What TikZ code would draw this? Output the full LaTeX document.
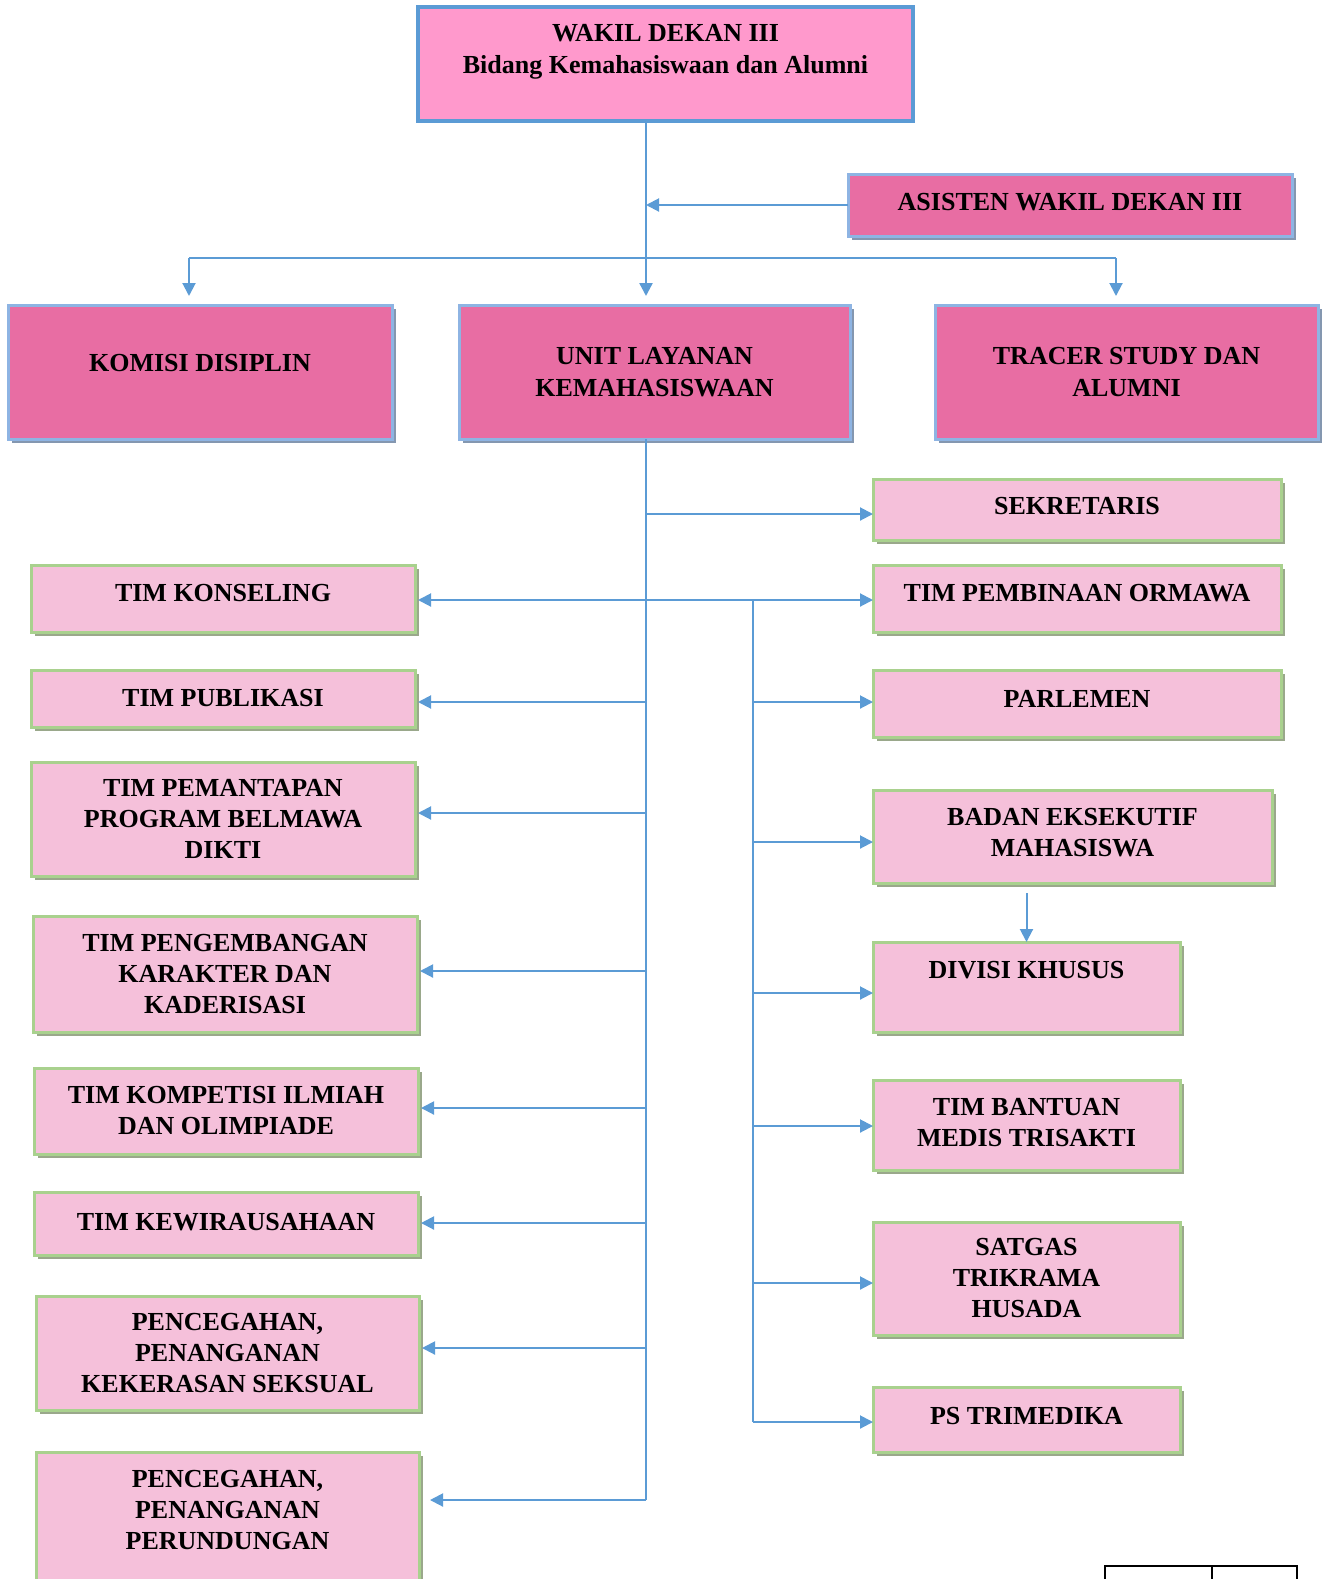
\documentclass[tikz,border=0pt]{standalone}
\usepackage{fontspec}
\setmainfont{Liberation Serif}
\usetikzlibrary{arrows.meta,shadows}
\definecolor{toppink}{HTML}{FF99CC}
\definecolor{topblue}{HTML}{5B9BD5}
\definecolor{midpink}{HTML}{E86DA3}
\definecolor{edgeblue}{HTML}{8EB4E3}
\definecolor{shadeblue}{HTML}{8497B0}
\definecolor{lightpink}{HTML}{F5C0DA}
\definecolor{edgegreen}{HTML}{A9D18E}
\definecolor{shadegreen}{HTML}{9AA88B}
\definecolor{linkblue}{HTML}{5B9BD5}

\begin{document}
\begin{tikzpicture}
[x=.5pt,y=-.5pt,
every node/.style={inner sep=0pt,outer sep=0pt,align=center,font=\fontsize{13}{15.5}\selectfont\bfseries},
topbox/.style={draw=topblue,line width=2pt,fill=toppink},
headbox/.style={draw=edgeblue,line width=1.5pt,fill=midpink,drop shadow={shadow xshift=2pt,shadow yshift=-2pt,fill=shadeblue,opacity=1}},
teambox/.style={draw=edgegreen,line width=1.5pt,fill=lightpink,drop shadow={shadow xshift=2pt,shadow yshift=-2pt,fill=shadegreen,opacity=1}},
link/.style={draw=linkblue,line width=1pt},
arr/.style={link,-{Triangle[length=6.5pt,width=6.5pt]}}]
\useasboundingbox (0,0) rectangle (1330,1579);
% head
\node[topbox,minimum width=247.5pt,minimum height=57pt,text depth=15pt] (wd3) at (665.5,64) {WAKIL DEKAN III\\[.5pt]Bidang Kemahasiswaan dan Alumni};
\node[headbox,minimum width=222pt,minimum height=31pt,text depth=3pt] (awd) at (1070,205) {ASISTEN WAKIL DEKAN III};
\node[headbox,minimum width=192pt,minimum height=67pt,text depth=9pt] (kom) at (200,372) {KOMISI DISIPLIN};
\node[headbox,minimum width=195.5pt,minimum height=67pt] (unit) at (654.5,372) {UNIT LAYANAN\\[.5pt]KEMAHASISWAAN};
\node[headbox,minimum width=191.5pt,minimum height=67pt] (tracer) at (1126.5,372) {TRACER STUDY DAN\\[.5pt]ALUMNI};
% right column
\node[teambox,minimum width=204pt,minimum height=30.5pt,text depth=4pt] (sek) at (1077,509.5) {SEKRETARIS};
\node[teambox,minimum width=204pt,minimum height=33.5pt,text depth=6pt] (orm) at (1077,598.5) {TIM PEMBINAAN ORMAWA};
\node[teambox,minimum width=204pt,minimum height=33.5pt,text depth=5pt] (parl) at (1077,703.5) {PARLEMEN};
\node[teambox,minimum width=199.5pt,minimum height=46.5pt,text depth=4pt] (bem) at (1072.5,836.5) {BADAN EKSEKUTIF\\MAHASISWA};
\node[teambox,minimum width=153.5pt,minimum height=45pt,text depth=17pt] (div) at (1026.5,987) {DIVISI KHUSUS};
\node[teambox,minimum width=153.5pt,minimum height=45pt,text depth=3pt] (tbm) at (1026.5,1125) {TIM BANTUAN\\MEDIS TRISAKTI};
\node[teambox,minimum width=153.5pt,minimum height=56.5pt] (satgas) at (1026.5,1278.5) {SATGAS\\TRIKRAMA\\HUSADA};
\node[teambox,minimum width=153.5pt,minimum height=32.5pt,text depth=4pt] (pst) at (1026.5,1419.5) {PS TRIMEDIKA};
% left column
\node[teambox,minimum width=192pt,minimum height=33.5pt,text depth=6pt] (kons) at (223,598.5) {TIM KONSELING};
\node[teambox,minimum width=192pt,minimum height=28.5pt,text depth=1pt] (pub) at (223,698.5) {TIM PUBLIKASI};
\node[teambox,minimum width=192pt,minimum height=57pt] (pem) at (223,819) {TIM PEMANTAPAN\\PROGRAM BELMAWA\\DIKTI};
\node[teambox,minimum width=192pt,minimum height=58pt] (peng) at (225,974) {TIM PENGEMBANGAN\\KARAKTER DAN\\KADERISASI};
\node[teambox,minimum width=192pt,minimum height=43pt] (komp) at (226,1111) {TIM KOMPETISI ILMIAH\\DAN OLIMPIADE};
\node[teambox,minimum width=192pt,minimum height=31.5pt,text depth=2pt] (kwu) at (226,1223.5) {TIM KEWIRAUSAHAAN};
\node[teambox,minimum width=191.5pt,minimum height=57pt] (pks) at (227.5,1353) {PENCEGAHAN,\\PENANGANAN\\KEKERASAN SEKSUAL};
\node[teambox,overlay,minimum width=191.5pt,minimum height=69pt,text depth=11pt] (ppr) at (227.5,1521) {PENCEGAHAN,\\PENANGANAN\\PERUNDUNGAN};
% connectors
\coordinate (tr) at (646,258);
\coordinate (hl) at (189,258);
\coordinate (hr) at (1116,258);
\coordinate (tb) at (646,1500);
\coordinate (br) at (753,600);
\coordinate (bb) at (753,1422);
\draw[link,line width=1.2pt] (wd3.south -| tr) -- (tr);
\draw[arr,line width=1.2pt,shorten >=4.5pt] (tr) -- (unit.north -| tr);
\draw[arr] (awd.west) -- (awd.west -| tr);
\draw[link,line width=.6pt] (hl) -- (hr);
\draw[arr,shorten >=4.5pt] (hl) -- (kom.north -| hl);
\draw[arr,shorten >=4.5pt] (hr) -- (tracer.north -| hr);
\draw[link,line width=.8pt] (unit.south -| tr) -- (tb);
\draw[link,line width=.8pt] (br) -- (bb);
\foreach \n/\y in {kons/600,pub/702,pem/813,peng/971,komp/1108,kwu/1223,pks/1348}
\draw[arr,shorten >=1.5pt] (tr |- 0,\y) -- (\n.east |- 0,\y);
\draw[arr,shorten >=5.5pt] (tb) -- (ppr.east |- tb);
\foreach \n/\y in {sek/514,orm/600}
\draw[arr] (tr |- 0,\y) -- (\n.west |- 0,\y);
\foreach \n/\y in {parl/702,bem/842,div/993,tbm/1126,satgas/1283,pst/1422}
\draw[arr] (br |- 0,\y) -- (\n.west |- 0,\y);
\draw[arr,shorten <=5pt] (bem.south -| div.north) -- (div.north);
% table edge
\draw[overlay,line width=1pt] (1105,1590) -- (1105,1566) -- (1297,1566) -- (1297,1590);
\draw[overlay,line width=1pt] (1212,1566) -- (1212,1590);
\end{tikzpicture}
\end{document}
